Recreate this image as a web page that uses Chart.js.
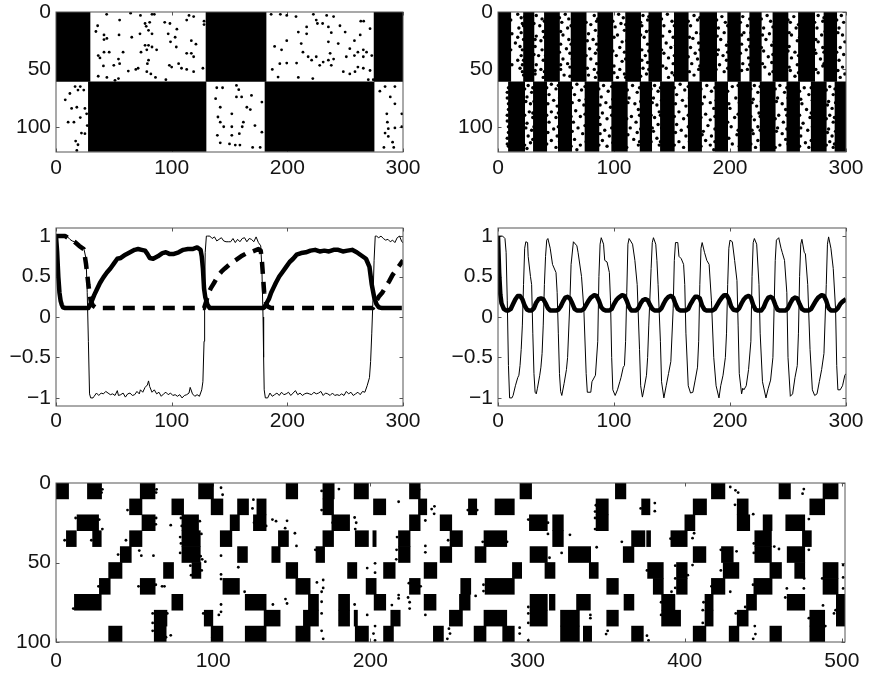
<!DOCTYPE html>
<html><head><meta charset="utf-8">
<style>
html,body{margin:0;padding:0;background:#fff;width:869px;height:676px;overflow:hidden}
canvas{position:absolute;filter:blur(0.45px)}
</style>
<script src="https://cdn.jsdelivr.net/npm/chart.js@4"></script>
</head><body>
<script>
// ---------- tick labels ----------
const ticksTime300=[0,100,200,300];
const ticksTime500=[0,100,200,300,400,500];
const ticksUnits120=[0,50,100];
const ticksActivity=[-1,-0.5,0,0.5,1];

// ---------- panel A: slow checkerboard raster ----------
const slowRowCentres=[30.25,91.25];
const slowBlocksUpper=[[0,29.4],[129.7,181.6],[275,300]];
const slowBlocksLower=[[28,129.7],[180.7,275]];
const slowDots=[[43.8,2],[64.5,1],[73,3],[83,2],[85,2],[55,7],[115,3],[113,7],[119,4],[128,8],[128,11],[36,12],[34.5,17],[41.5,20],[44,23],[41.5,24],[54.5,20],[65.5,22],[72.6,19],[77,10],[81,9],[78,12.5],[80,16],[83,19],[94,9],[98.5,10],[104.5,15],[97,19],[103,22],[99,26],[117,25],[121,28],[104,30.5],[80,29],[77,29],[83,30.5],[78.5,33],[87,33],[73.5,35],[58,35],[46,35],[41.5,35],[36.5,38],[38,40],[41,47],[50,46.5],[54,41],[55,45],[62.5,51.5],[69,50],[71,49],[80,42],[79,45],[78.5,52],[82,54],[98,46.5],[100,48],[113,36],[117,36],[119,39],[106,45],[108.5,49],[113,50],[119,52],[127,49],[36.5,56],[44,57],[54,58],[51,59.5],[86,57],[95,59],
[186,2],[194,2],[199.5,3],[207.5,4],[222.5,2],[234,3],[240,4],[225,7],[230.5,10],[226,10],[263.5,8],[266,8],[271.5,14.5],[245.5,12],[235.5,13],[216.7,13],[209.5,17.5],[216.7,19],[238,18],[250,17.5],[263,20],[258,25],[199.5,25],[189,30],[195,33],[212,27.5],[213.5,35],[235.5,26],[244,27.5],[254,32],[261,35],[265.7,33],[268.5,35],[273,38],[265.7,39],[258,38],[251,39],[237,36],[240,41],[235.5,42],[225,39],[231,43.6],[228,46.5],[193.5,45],[199.5,44.5],[208,44.5],[218,39],[221,42],[187,50],[192,56.7],[209.5,57],[222,58],[238,46.5],[248.4,52],[254,54],[261,48],[265.7,49],[271.5,51],[274.3,59],[270,59],[258.5,52],
[8,76.5],[12,71],[16.5,65],[21,65],[24,68],[19,68],[13.5,84],[18,83],[25,84],[21,92],[10.5,96],[15.5,96],[25,106],[22,105.5],[17,112.5],[19,115.7],[18,120.6],[26.5,88.7],[27,99],
[139,66],[144,66],[156,64],[158,67.7],[160.5,74],[156,74],[138,75.5],[169,72.7],[178,78.5],[142,83],[165,83],[168,85],[152,88.7],[140,91.5],[142,96],[162,96],[172,99],[152,100],[145,100],[161,100],[152,107.5],[158.5,106],[139.5,107.5],[178,104.7],[142,114],[150,115],[155,116],[159,116],[170,118],[176.5,118],
[280,69],[284.5,65],[293,65],[289,74],[293,80],[286,88.7],[299,88.7],[286.5,96],[287.3,101.7],[293,101],[299,100],[287.3,108.4],[284.5,105.5],[283.5,118],[291,113.4],[292,118]];

// ---------- panel B: fast striped raster ----------
const fastGapsUpper=[[11,22],[31,40],[53,63],[76,86],[99,110],[123,130],[141,152],[164,174],[188.5,198],[209,217],[227,237],[250,259],[273,281],[292,300]];
const fastGapsLower=[[0,9],[23,30.5],[42,52],[63.5,75],[87,98],[111.5,122.5],[132.5,140],[152,164],[175.5,187],[198,207],[218.5,226],[239,249],[260,270],[283,290.5]];
const fastDots=[[17,2],[20,5],[21,10],[18,14],[20,18],[17,22],[15,27],[19,30],[21,33],[20,38],[17,42],[21,46],[19,49],[22,12],[22,55],
[33,3],[38,6],[36,12],[39,17],[33,21],[37,25],[32,30],[38,33],[35,38],[39,42],[33,46],[37,50],[32,54],[39,57],
[58,2],[61,6],[55,9],[60,14],[56,20],[61,24],[54,28],[59,32],[62,36],[56,41],[60,45],[54,50],[62,48],[57,55],
[83,3],[85,8],[80,11],[84,16],[78,19],[82,24],[85,28],[79,32],[84,36],[80,41],[85,45],[83,50],[78,55],[84,57],
[104,2],[108,5],[106,10],[101,13],[109,16],[103,20],[107,26],[105,31],[109,35],[102,38],[107,43],[100,47],[105,50],[109,54],[103,57],
[125,3],[129,7],[124,12],[128,17],[126,22],[129,28],[124,33],[127,38],[129,44],[125,49],[128,54],
[146,2],[150,8],[143,12],[148,17],[151,22],[145,27],[149,31],[143,36],[147,40],[151,45],[145,49],[150,53],[147,57],
[169,3],[172,7],[166,12],[171,18],[168,23],[173,27],[166,31],[170,36],[172,41],[167,45],[173,50],[169,55],
[193,4],[196,9],[190,14],[195,18],[192,24],[197,29],[190,33],[194,38],[197,42],[191,46],[195,52],
[211,4],[215,12],[212,18],[216,24],[210,28],[214,33],[216,40],[211,45],[215,50],
[232,3],[235,8],[229,14],[234,19],[231,24],[236,29],[229,34],[233,39],[236,44],[230,48],[234,54],
[255,4],[252,9],[257,14],[253,20],[258,25],[251,30],[256,35],[253,40],[258,46],[252,51],[256,56],
[276,3],[280,8],[275,14],[279,20],[276,26],[280,31],[274,36],[278,41],[280,47],[276,53],
[296,3],[298,9],[294,14],[297,20],[299,26],[295,31],[298,37],[294,42],[297,48],[299,54],[295,57],
[8,70],[9,80],[8,90],[9,100],[8,110],[9,117],
[26,64],[29,70],[25,74],[28,80],[27,87],[30,92],[25,97],[29,103],[26,108],[28,114],[25,119],
[46,63],[50,67],[44,72],[48,77],[51,82],[46,87],[50,92],[44,96],[48,102],[51,108],[46,112],[50,118],
[68,63],[72,68],[66,72],[70,77],[74,81],[67,86],[71,91],[65,96],[69,101],[73,106],[66,111],[71,116],[68,120],
[91,64],[95,69],[89,74],[93,79],[97,83],[90,88],[94,93],[88,98],[92,103],[96,108],[90,112],[94,117],
[116,64],[120,70],[113,75],[118,80],[121,85],[115,91],[119,96],[114,101],[120,105],[117,111],[121,116],
[135,64],[138,69],[134,75],[137,81],[139,87],[135,92],[138,98],[134,104],[137,110],[139,116],
[157,63],[161,68],[154,72],[159,77],[162,82],[156,87],[160,93],[154,98],[158,103],[162,108],[156,113],[160,118],
[180,64],[184,69],[178,74],[183,79],[186,84],[179,89],[183,94],[181,99],[177,104],[184,108],[179,112],[183,116],[186,120],
[202,65],[205,75],[200,84],[204,92],[201,100],[206,107],[202,115],
[221,64],[224,70],[220,76],[223,82],[225,88],[221,94],[224,100],[220,106],[224,112],[222,118],
[243,64],[247,70],[241,75],[245,80],[248,85],[242,90],[246,96],[241,101],[245,106],[248,111],[243,116],
[264,66],[268,72],[262,80],[266,85],[269,92],[263,97],[267,103],[261,108],[265,114],[268,118],
[286,65],[289,72],[285,78],[288,84],[286,90],[289,96],[285,102],[288,108],[286,113],[289,118]];
const fastEdgeDots=[[11,7],[12,19],[11,33],[12,46],[22,24],[23,4],[22,42],[21,52],[31,10],[32,24],[31,37],[32,51],[40,8],[40,22],[41,38],[40,52],[53,5],[54,17],[53,35],[54,46],[63,12],[63,28],[64,41],[62,56],[76,9],[77,25],[76,38],[77,49],[86,6],[87,21],[86,33],[86,53],[99,8],[100,22],[99,34],[100,53],[110,11],[111,25],[110,41],[110,57],[123,9],[123,20],[124,42],[123,56],[130,4],[131,16],[130,34],[130,50],[141,6],[142,21],[141,33],[142,47],[152,12],[153,29],[152,38],[152,55],[164,8],[165,22],[164,39],[165,52],[174,5],[175,19],[174,33],[174,47],[188.5,7],[189,21],[189,37],[188,50],[198,12],[199,26],[198,35],[198,49],[209,9],[210,20],[209,36],[210,51],[217,6],[218,18],[217,30],[217,46],[227,6],[228,20],[227,31],[228,45],[237,13],[238,26],[237,37],[237,52],[250,7],[251,18],[250,34],[251,48],[259,11],[260,22],[259,38],[259,53],[273,9],[274,24],[273,33],[274,50],[281,5],[282,17],[281,35],[281,45],[292,7],[293,18],[292,35],[293,51],
[9,66],[8,75],[9,85],[8,95],[9,105],[8,115],[23,67],[24,78],[23,90],[24,101],[23,116],[30,66],[31,78],[30,88],[31,100],[30,111],[42,66],[43,80],[42,90],[43,105],[42,115],[52,64],[53,75],[52,88],[52,100],[53,113],[63.5,66],[64,79],[63,91],[64,104],[63,117],[75,65],[76,76],[75,89],[75,99],[76,113],[87,67],[88,81],[87,92],[88,106],[87,116],[98,65],[99,76],[98,90],[98,101],[99,114],[111.5,68],[112,79],[111,93],[112,107],[111,118],[122,66],[123,78],[122,90],[123,102],[122,113],[132,67],[133,79],[132,90],[133,101],[132,113],[140,66],[141,77],[140,90],[141,101],[140,113],[152,66],[153,80],[152,91],[153,105],[152,116],[164,65],[165,75],[164,90],[164,100],[165,113],[175,67],[176,80],[175,92],[176,107],[175,117],[187,66],[188,77],[187,91],[187,102],[187,113],[198,69],[199,80],[198,96],[199,110],[207,64],[208,79],[207,89],[207,103],[208,117],[218,67],[219,79],[218,91],[219,103],[218,115],[226,65],[227,78],[226,91],[226,103],[227,116],[239,67],[240,78],[239,93],[240,104],[239,118],[249,66],[250,75],[249,90],[249,102],[250,115],[260,69],[261,76],[260,90],[261,101],[260,117],[270,66],[271,77],[270,88],[271,100],[270,112],[283,68],[284,81],[283,93],[284,105],[283,116],[290.5,67],[291,79],[290,92],[291,104],[290,115]];

// ---------- panel C: slow activity ----------
const slowThin=[[0,1],[5,1],[10,.99],[12,.96],[14,.94],[16,.93],[18,.92],[20,.9],[22,.87],[24,.85],[26,.72],[27,.3],[28,-.3],[29,-.95],[30,-1],[32,-1],[33,-.98],[35,-.94],[37,-.97],[39,-.94],[41,-.95],[43,-.92],[45,-.94],[47,-.96],[49,-.95],[51,-.97],[53,-.91],[54,-.97],[56,-.96],[58,-.94],[60,-.99],[62,-.95],[64,-.94],[66,-.97],[68,-.96],[70,-.92],[72,-.95],[73,-.9],[75,-.93],[77,-.87],[79,-.84],[80,-.79],[81,-.86],[83,-.93],[85,-.9],[87,-.95],[89,-.93],[91,-.98],[93,-.95],[95,-.93],[97,-.96],[99,-.94],[101,-.97],[103,-.96],[105,-.98],[107,-.96],[109,-1],[111,-.97],[113,-.96],[115,-.94],[116,-.87],[118,-.95],[120,-.98],[122,-.96],[124,-.98],[126,-.9],[127,-.8],[128,-.3],[128.5,.3],[129,.8],[130,1],[131,1],[133,1],[135,.97],[137,.99],[139,.94],[141,.96],[143,.98],[145,.94],[147,.93],[149,.93],[151,.93],[153,.97],[155,.92],[157,.96],[159,.93],[161,.97],[163,.98],[165,.93],[167,.97],[169,.96],[171,.93],[173,.99],[175,.92],[177,.88],[178,.6],[179,0],[179.5,-.5],[180,-.9],[181,-1],[183,-1],[185,-.94],[187,-.98],[189,-.96],[191,-.94],[193,-.97],[195,-.93],[197,-.96],[199,-.95],[201,-.93],[203,-.97],[205,-.94],[207,-.91],[209,-.96],[211,-.94],[213,-.97],[215,-.95],[217,-.94],[219,-.95],[221,-.96],[223,-.93],[225,-.95],[227,-.94],[229,-.92],[231,-.97],[233,-.94],[235,-.95],[237,-.97],[239,-.94],[241,-.97],[243,-.96],[245,-.97],[247,-.95],[249,-.97],[251,-.92],[253,-.95],[255,-.93],[257,-.97],[259,-.95],[261,-.93],[263,-.96],[265,-.92],[267,-.93],[269,-.85],[271,-.75],[272,-.55],[273,-.2],[274,.2],[275,.7],[276,1],[277,1],[279,.98],[281,1],[283,.97],[285,.95],[287,.96],[289,.93],[291,.95],[293,.92],[295,.98],[297,1],[299,.93],[300,.92]];
const slowSolid=[[0,1],[1,.8],[2,.5],[3,.3],[4,.2],[5,.15],[6,.12],[8,.11],[28,.11],[29,.14],[31,.2],[33,.27],[35,.33],[38,.42],[41,.49],[44,.55],[47,.6],[50,.66],[53,.72],[56,.73],[60,.77],[64,.8],[68,.83],[71,.84],[74,.83],[77,.82],[79,.78],[81,.73],[84,.72],[88,.75],[92,.79],[95,.8],[98,.78],[102,.78],[106,.8],[110,.83],[114,.84],[118,.84],[122,.86],[125,.83],[126,.75],[127,.6],[128,.35],[129,.25],[130,.2],[131,.15],[133,.11],[179,.11],[180,.12],[182,.17],[184,.22],[186,.3],[188,.36],[190,.42],[193,.5],[196,.56],[199,.62],[202,.68],[205,.72],[208,.77],[212,.79],[216,.8],[220,.82],[224,.83],[228,.81],[232,.82],[236,.81],[240,.83],[244,.83],[248,.81],[252,.82],[256,.83],[260,.8],[264,.76],[268,.72],[271,.62],[273,.4],[275,.25],[277,.16],[279,.12],[282,.11],[299,.11]];
const slowDashed=[[0,1],[8,1],[12,.96],[16,.93],[20,.88],[24,.84],[26,.65],[28,.4],[30,.2],[32,.14],[34,.12],[36,.11],[128,.11],[130,.2],[132,.3],[134,.36],[137,.43],[140,.51],[143,.56],[146,.6],[150,.65],[155,.7],[160,.75],[165,.79],[170,.81],[175,.84],[177,.82],[178,.7],[179,.5],[180,.3],[181,.2],[183,.13],[186,.11],[274,.11],[275,.14],[277,.2],[279,.25],[282,.3],[285,.37],[288,.44],[291,.52],[294,.58],[297,.64],[300,.7]];

// ---------- panel D: fast activity ----------
const fastThin=[[0,1],[4,1],[6,.97],[7,.8],[8,.2],[9,-.6],[10,-1],[12,-1],[13,-.97],[15,-.85],[17,-.75],[18,-.72],[19,-.6],[20,-.4],[21,-.1],[22,.4],[23,.85],[24,.93],[25.5,.92],[26,.75],[28,.5],[29,.4],[30,-.2],[31,-.7],[32,-.93],[33,-.95],[34,-.88],[36,-.72],[37,-.62],[38,-.45],[39,-.1],[40,.4],[41,.75],[42,.95],[43,.97],[45,.85],[47,.65],[50,.55],[51,.3],[52,-.2],[53,-.7],[54,-.92],[55,-.97],[57,-.82],[59,-.65],[60,-.5],[62,.2],[63,.65],[65,.93],[68,.88],[69,.8],[72,.5],[74,.1],[76,-.7],[77,-.93],[80,-.93],[81,-.8],[84,-.72],[86,-.3],[87,.5],[88,.9],[89,.98],[91,.9],[92,.7],[94,.68],[96,.55],[97,.2],[98,-.5],[99,-.9],[101,-.97],[103,-.9],[105,-.8],[106,-.75],[108,-.62],[109,-.6],[110,-.3],[111,.3],[112,.9],[113,.97],[116,.9],[118,.7],[120,.4],[122,-.4],[123,-.85],[124.5,-.99],[126,-.88],[128,-.72],[129,-.5],[130,-.1],[132,.6],[133,.92],[134,.98],[136,.9],[137,.7],[138,.4],[140,-.3],[141,-.8],[143,-1],[145,-.85],[147,-.7],[149,-.55],[151,.1],[152,.7],[153,.92],[155,.92],[156,.75],[158,.72],[160,.65],[161,.4],[162,-.2],[164,-.85],[166,-.94],[168,-.93],[170,-.78],[172,-.62],[173,-.3],[174,.4],[175,.85],[176,.92],[178,.8],[180,.7],[182,.65],[184,.2],[186,-.5],[188,-.85],[190.5,-1],[192,-.85],[194,-.72],[196,-.5],[197,-.2],[198,.4],[199,.85],[200,.95],[202,.93],[204,.7],[206,.45],[207,-.1],[208,-.7],[210,-.95],[211,-.88],[212,-.9],[214,-.85],[216,-.65],[218,-.3],[219,.5],[220,.92],[221,.97],[223,.9],[225,.4],[226,-.2],[228,-.8],[231,-1],[233,-.88],[235,-.78],[237,-.5],[238,.1],[239,.7],[240,.95],[242,.98],[244,.85],[245,.8],[247,.7],[249,.3],[250,-.5],[252,-.98],[254,-.95],[256,-.75],[258,-.6],[259,-.2],[260,.5],[261,.9],[262,.96],[264,.8],[265,.78],[267,.4],[269,-.4],[271,-.9],[273,-.97],[275,-.95],[277,-.8],[279,-.65],[281,-.45],[283,.4],[284,.9],[285,.99],[287,.85],[289,.6],[291,.1],[292,-.6],[293,-.9],[295,-.9],[297,-.85],[299,-.72],[300,-.7]];
const fastThick=[[0,1],[1,.55],[2,.28],[3,.17],[5,.1],[7,.08],[9,.08],[11,.1],[13,.16],[15,.22],[17,.26],[19,.26],[21,.22],[23,.14],[25,.09],[27,.08],[29,.08],[31,.11],[33,.18],[35,.22],[37,.23],[39,.22],[41,.17],[43,.11],[45,.08],[47,.08],[50,.08],[52,.09],[54,.13],[56,.19],[58,.24],[60,.25],[62,.23],[64,.17],[66,.1],[68,.08],[72,.08],[74,.1],[76,.15],[78,.2],[80,.24],[83,.27],[85,.26],[87,.2],[89,.12],[91,.09],[93,.08],[96,.08],[98,.1],[100,.16],[102,.21],[104,.24],[107,.27],[109,.26],[111,.2],[113,.12],[115,.08],[119,.08],[121,.11],[123,.17],[125,.21],[127,.22],[129,.21],[131,.15],[133,.1],[135,.08],[139,.08],[141,.11],[143,.17],[145,.22],[147,.25],[149,.26],[151,.24],[153,.16],[155,.1],[157,.08],[162,.08],[164,.1],[166,.16],[168,.21],[170,.25],[172,.25],[174,.23],[176,.14],[178,.09],[180,.08],[185,.08],[187,.1],[189,.15],[191,.2],[193,.24],[195,.27],[197,.27],[199,.22],[201,.13],[203,.09],[206,.08],[208,.11],[210,.17],[212,.22],[214,.25],[216,.26],[218,.24],[220,.15],[222,.09],[224,.08],[227,.08],[229,.12],[231,.19],[233,.24],[235,.25],[237,.23],[239,.15],[241,.09],[243,.08],[248,.08],[250,.11],[252,.17],[254,.22],[256,.24],[258,.23],[260,.16],[262,.1],[264,.08],[268,.08],[270,.1],[272,.15],[274,.2],[276,.24],[279,.27],[281,.26],[283,.2],[285,.11],[287,.08],[291,.08],[293,.11],[295,.16],[297,.19],[300,.22]];

// ---------- panel E: long raster, one list of [start,end] per row ----------
const longRowCentres=[5,15,25,35,45,55,65,75,85,95];
const longRow0=[[0,8],[20,29],[53.6,63],[90.7,100.2],[146.4,153.8],[169.8,177],[189.7,198.8],[224.9,231.7],[295.2,302.6],[355.9,362.6],[417,425.6],[460,467.3],[488,497.6]];
const longRow1=[[46.8,54.7],[73.7,81.2],[98.7,106.2],[115.5,122.5],[127.8,133.7],[169.8,176.6],[202,209.8],[230.6,235.9],[262.4,267.7],[279.3,291.6],[343.6,351.4],[372.6,377.9],[405.4,413.9],[433.4,440.4],[479.6,489.1]];
const longRow2=[[13.4,27.1],[54.7,63.1],[80.1,90.7],[110.8,116.7],[125.6,133.7],[175.5,186.8],[224.9,231.7],[244.4,251.8],[301.2,312.6],[316,322.8],[343.6,351.4],[400.1,406.5],[433.4,441.4],[449.9,455.6],[464.3,476.4]];
const longRow3=[[6.6,12.9],[23.3,28.8],[46.8,54.7],[80.1,91.8],[104.5,111.9],[141.5,147.9],[169.8,176.6],[190.4,198.8],[201.6,203.7],[217.9,225.3],[250.7,258.6],[272.3,286.8],[316,322.8],[366.2,374.7],[375.8,378.3],[391.2,401.6],[444.6,455.2],[474.9,480.6]];
const longRow4=[[40.9,47.9],[80.1,91.8],[115.5,121.8],[137.3,142.6],[165.4,170.9],[217.9,225.3],[244.4,251.8],[266.6,273.6],[301.6,312.6],[326,340.2],[360.9,367.7],[405.4,413.5],[423.4,430.9],[444.6,455.2],[465.2,476.4]];
const longRow5=[[33.5,42],[68.4,74.8],[86.5,92.2],[146.4,153.8],[185.5,191.4],[208.4,215.8],[234.2,242.3],[290.4,296.3],[311.1,317.5],[339.3,345],[376.4,386.4],[394.8,401.6],[424.5,434.5],[454.2,461.6],[470,476.4],[488,497.6]];
const longRow6=[[27.6,34.5],[53.6,63.1],[106.2,116.7],[152.6,161.7],[197.3,203.7],[224.9,231.7],[257.5,263.9],[273,291.6],[350.4,357.8],[380,386.4],[394.8,401.6],[417,425.6],[444,455.6],[488,497.6]];
const longRow7=[[11.7,28.8],[73.7,80.7],[120.4,133.7],[160.6,167],[179.8,186.8],[202.4,209.8],[234.2,241.8],[256.7,263.5],[301.6,312.6],[313.9,317.5],[331.2,340],[361.4,367.7],[385.3,393.8],[412.9,418.1],[439.3,445.7],[465.2,476.4],[496.5,501.8]];
const longRow8=[[62.5,70.6],[94.3,99.8],[132.4,142.6],[157.4,167],[179.8,186.8],[189.7,191.8],[213,219],[250.3,258.6],[272.3,286.8],[301.6,312.6],[321,333],[350.4,357.8],[385.3,397.4],[412.9,418.1],[433.4,440.4],[479.6,489.1],[496.5,501.8]];
const longRow9=[[33.5,42],[62.5,70.1],[98.7,106.2],[120.4,133.7],[152.6,161.7],[190.4,198.8],[208.4,214.7],[240.1,246.5],[266,273.6],[284.2,291.6],[321,333],[335.5,340.8],[366.2,373.7],[405.4,413.5],[428.3,434.5],[454.2,461.6],[479.6,489.1]];
const longDots=[[53,42.5],[54.3,45.7],[62,45.7],[73,26.5],[69,65],[73,95.8],[95,49.5],[105,45.7],[116,53],[105,57.5],[105,60.4],[105,76.4],[105,81],[103.6,83],[120,68.4],[138,76.4],[146,73],[147,75.8],[137.7,23],[147,23.8],[145.8,28.4],[152,31.6],[153,39.6],[166,62.5],[105,3],[106,7.4],[125.6,10.5],[125,16],
[180,3.8],[190,21.7],[191,25],[190.4,29],[218,11.8],[239,16.4],[240.8,14.7],[240.6,19.4],[235,23.6],[235,39.6],[235,43.6],[203,50.5],[198,53.5],[203,56.4],[170,61],[170,66],[169,68.4],[169,74.7],[169,82],[169,93],[170,98],[190,76.4],[198,83],[218,70.5],[218,72.6],[224,72],[225,75],[225,79],[235,83],[203,90],[202,94.7],[203,99],[213.7,76.8],[267,71],[250,91.6],[250.7,94.7],[249,98],[295,91],[295,94.7],[300.5,99],[314,47],[321.7,44],[327,32.6],
[344,40.4],[381,12.6],[381,17.7],[340,83],[340,85],[351,93],[350,95],[377,99],[376,96],[405,34.7],[406,31.6],[405,51.6],[429,2.5],[432.3,4.6],[434,6],[432,13.7],[443.6,19.6],[433,43],[429,68.4],[457,40],[460,41.5],[475.8,3.8],[475,6.7],[479,22.7],[479,42],[465,66.3],[475.8,66.3],[488,77],[444.6,90],[445,95],[443.6,98],[500.8,51.6],[500.8,59.4],[500.8,66.3],[391.6,68.4]];
const longEdgeDots=[[79.5,22],[80,27],[79,34],[79.5,38],[79,44],[91.5,24],[92.5,32],[92,46],[93,48],[85.5,52],[92.7,55],[86,58],[45.5,17],[44.5,36],[39.5,45],[12.5,22],[27.5,23],[29.5,29],[5.5,36],[22.5,36],[29,6],[29.5,4],[63.7,6],[64,4],[63.5,26],[63.7,22],[62.5,5],[27,65],[52.5,65],[63.5,64],[11,79],[67.5,65],[61.5,82],[61.5,88],[70.8,82],[61.5,93],[70,97],[93.7,82],[99.5,97],[130,14],[126,25],[140,24],[133.7,27],[169,5],[169,17],[176,25],[217,34],[216.7,42],[216.5,48],[165,42],[231,4],[224.5,63],[232,65],[249.5,36],[262,17],[268,17],[272,64],[272,68],[313,25],[313,32],[300.5,23],[300.5,82],[300.5,78],[300.5,88],[271.5,37],[287,37],[343,22],[343,29],[343.5,14],[343,18],[360,37],[372,16],[391,35],[376,55],[394,52],[394,60],[394,66],[402,58],[417,65],[411.5,80],[412,75],[411.5,88],[385,75],[385,83],[438.5,78],[432.5,82],[423,42],[423,55],[444,38],[444,44],[443.5,64],[476,60],[464,72],[479,85],[489.5,90],[496,80],[487.5,60],[495,82]];

// ---------- helpers ----------
const INK='#000', FRAME='#555', TEXT='#141414';
const asPoints=a=>a.map(([x,y])=>({x,y}));
const rowBars=(rows,centre)=>rows.map(([a,b])=>({x:[a,b],y:centre}));
const complement=(gaps,end)=>{const out=[];let p=0;gaps.forEach(([a,b])=>{if(a>p)out.push([p,a]);p=b;});if(p<end)out.push([p,end]);return out;};

const boxPlugin={id:'box',
  beforeDatasetsDraw(c){
    const {ctx,chartArea:A,scales:{x,y}}=c;const L=3.5;
    ctx.save();ctx.strokeStyle=FRAME;ctx.lineWidth=1;ctx.beginPath();
    x.ticks.forEach(t=>{const p=Math.round(x.getPixelForValue(t.value))+.5;ctx.moveTo(p,A.top);ctx.lineTo(p,A.top+L);ctx.moveTo(p,A.bottom);ctx.lineTo(p,A.bottom-L);});
    y.ticks.forEach(t=>{const p=Math.round(y.getPixelForValue(t.value))+.5;ctx.moveTo(A.left,p);ctx.lineTo(A.left+L,p);ctx.moveTo(A.right,p);ctx.lineTo(A.right-L,p);});
    ctx.stroke();ctx.restore();
  },
  afterDatasetsDraw(c){
    const {ctx,chartArea:A}=c;
    ctx.save();ctx.strokeStyle=FRAME;ctx.lineWidth=1;
    ctx.strokeRect(A.left,A.top,A.right-A.left,A.bottom-A.top);ctx.restore();
  }};

function panel(rect,xTicks,xMax,yTicks,yMin,yMax,reverse,xPad,datasets){
  const yW=56,xH=36,padT=12,padR=23;
  const cv=document.createElement('canvas');
  const w=rect.r-rect.l+yW+padR,h=rect.b-rect.t+padT+xH;
  cv.width=w;cv.height=h;
  cv.style.left=(rect.l-yW)+'px';cv.style.top=(rect.t-padT)+'px';
  cv.style.width=w+'px';cv.style.height=h+'px';
  document.body.appendChild(cv);
  const font={family:'"Liberation Sans",Arial,sans-serif',size:21};
  const fmt=v=>(v<0?'\u2212':'')+Math.abs(v);
  const noPad=s=>{s.paddingTop=0;s.paddingBottom=0;s.paddingLeft=0;s.paddingRight=0;};
  new Chart(cv,{type:'scatter',data:{datasets},plugins:[boxPlugin],options:{
    responsive:false,animation:false,devicePixelRatio:1,
    layout:{padding:{left:0,top:padT,right:padR,bottom:0}},
    plugins:{legend:{display:false},tooltip:{enabled:false},title:{display:false}},
    scales:{
      x:{type:'linear',offset:false,min:0,max:xMax,
        afterBuildTicks:s=>{s.ticks=xTicks.map(value=>({value}));},
        afterFit:s=>{s.height=xH;noPad(s);},
        grid:{display:false,drawTicks:false,offset:false},border:{display:false},
        ticks:{color:TEXT,font,padding:xPad,maxRotation:0,autoSkip:false,callback:fmt}},
      y:{type:'linear',offset:false,min:yMin,max:yMax,reverse,
        afterBuildTicks:s=>{s.ticks=yTicks.map(value=>({value}));},
        afterFit:s=>{s.width=yW;noPad(s);},
        grid:{display:false,drawTicks:false,offset:false},border:{display:false},
        ticks:{color:TEXT,font,padding:5,autoSkip:false,callback:fmt}}
    }}});
}
const bars=(data,thick)=>({type:'bar',indexAxis:'y',data,backgroundColor:INK,borderWidth:0,barThickness:thick,order:2});
const dots=(pts,r)=>({type:'scatter',data:asPoints(pts),showLine:false,pointRadius:r,pointBackgroundColor:INK,pointBorderWidth:0,order:1});
const line=(pts,w,dash,order)=>({type:'scatter',data:asPoints(pts),showLine:true,pointRadius:0,borderColor:INK,borderWidth:w,borderDash:dash||[],borderCapStyle:'butt',borderJoinStyle:'round',tension:0,order});

// ---------- panels ----------
const rows=69.6;
panel({l:56,t:12,r:403,b:152},ticksTime300,300,ticksUnits120,0,122,true,3.5,[
  bars(rowBars(slowBlocksUpper,slowRowCentres[0]).concat(rowBars(slowBlocksLower,slowRowCentres[1])),rows),
  dots(slowDots,1.4)]);
panel({l:498,t:12,r:846,b:152},ticksTime300,300,ticksUnits120,0,122,true,3.5,[
  bars(rowBars(complement(fastGapsUpper,300),slowRowCentres[0]).concat(rowBars(complement(fastGapsLower,300),slowRowCentres[1])),rows),
  dots(fastDots,1.7),dots(fastEdgeDots,1.7)]);
panel({l:56,t:228,r:403,b:406},ticksTime300,300,ticksActivity,-1.1,1.1,false,2.5,[
  line(slowThin,1,null,3),line(slowDashed,4.5,[12,8],2),line(slowSolid,4.5,null,1)]);
panel({l:498,t:228,r:846,b:406},ticksTime300,300,ticksActivity,-1.1,1.1,false,2.5,[
  line(fastThin,1,null,2),line(fastThick,4.5,null,1)]);
const longRows=[longRow0,longRow1,longRow2,longRow3,longRow4,longRow5,longRow6,longRow7,longRow8,longRow9];
panel({l:56,t:483,r:845,b:642},ticksTime500,502,ticksUnits120,0,100,true,7,[
  bars(longRows.flatMap((r,i)=>rowBars(r,longRowCentres[i])),15.9),
  dots(longDots,1.4),dots(longEdgeDots,1.4)]);
</script>
</body></html>
